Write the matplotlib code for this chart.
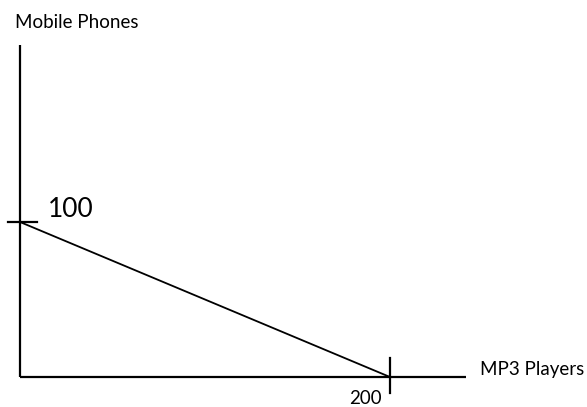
import matplotlib
matplotlib.use("Agg")
import matplotlib.pyplot as plt

# Data
x_label = "MP3 Players"
y_label = "Mobile Phones"
frontier_x = [0, 200]
frontier_y = [100, 0]
x_tick_value = 200
y_tick_value = 100

plt.rcParams['font.family'] = ['Lato', 'DejaVu Sans']

fig = plt.figure(figsize=(5.87, 4.07), dpi=100)
ax = fig.add_axes([0, 0, 1, 1])
ax.set_xlim(-10.8, 306.5)
ax.set_ylim(-19.35, 243.2)
ax.axis('off')

lw = 1.6
# axes lines
ax.plot([0, 0], [0, 214], color='black', lw=lw, solid_capstyle='butt')
ax.plot([0, 241], [0, 0], color='black', lw=lw, solid_capstyle='butt')
# frontier
ax.plot(frontier_x, frontier_y, color='black', lw=1.3)
# tick marks
ax.plot([-6.5, 9], [y_tick_value, y_tick_value], color='black', lw=lw)
ax.plot([x_tick_value, x_tick_value], [-10, 12], color='black', lw=lw)

# labels
ax.text(15.1, 103.2, str(y_tick_value), fontsize=19, va='baseline', ha='left')
ax.text(195.7, -17.4, str(x_tick_value), fontsize=13.5, va='baseline', ha='right')
ax.text(-2.7, 225.2, y_label, fontsize=13.5, va='baseline', ha='left')
ax.text(248.6, 1.3, x_label, fontsize=13.5, va='baseline', ha='left')

fig.savefig('out.png', dpi=100)
